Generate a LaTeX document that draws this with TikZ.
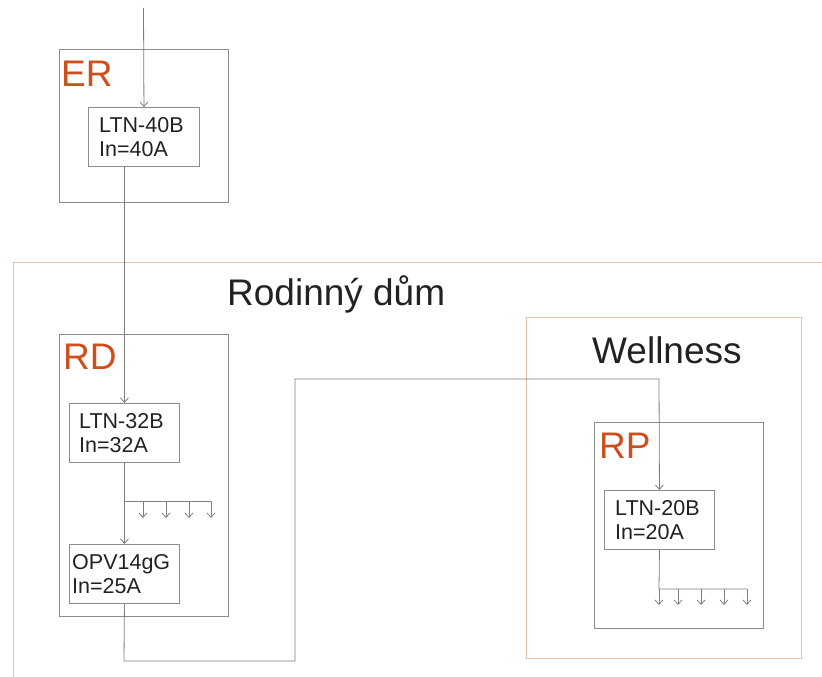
\documentclass[tikz,border=0pt]{standalone}
\usepackage{fontspec}
\setmainfont{Liberation Sans}
\usetikzlibrary{arrows.meta,calc}
\definecolor{wire}{HTML}{7F7F7F}
\definecolor{boxgray}{HTML}{8C8C8C}
\definecolor{frameor}{HTML}{E2BFAB}
\definecolor{labor}{HTML}{CF4F1C}
\definecolor{txt}{HTML}{222222}
\tikzset{
  px/.style={x=1pt,y=-1pt},
  wireline/.style={draw=wire,line width=0.8pt},
  arr/.style={wireline,-{Straight Barb[length=4.5pt,width=8pt,line width=0.8pt]}},
  devbox/.style={draw=boxgray,line width=0.9pt,fill=white,minimum width=#1,minimum height=59pt,inner sep=0pt,anchor=north west},
  panel/.style={draw=boxgray,line width=0.9pt},
  frame/.style={draw=frameor,line width=1pt},
  devtext/.style={text=txt,font=\fontsize{21.5}{24}\selectfont,align=left,inner sep=0pt,anchor=west},
  panellabel/.style={text=labor,font=\fontsize{37}{40}\selectfont,inner sep=0pt,anchor=base west},
  zonelabel/.style={text=txt,font=\fontsize{37}{40}\selectfont,inner sep=0pt,anchor=base west},
}
\begin{document}
\begin{tikzpicture}[px]
\clip (0,0) rectangle (822,677);
\fill[white] (0,0) rectangle (822,677);
% frames
\draw[frame] (13,262) rectangle (840,700);
\draw[frame] (526,317) rectangle (801,658);
\node[zonelabel] (rdtitle) at (227,305) {Rodinný dům};
\node[zonelabel] (wtitle) at (592,363) {Wellness};
% panels
\draw[panel] (59,49) rectangle (228,202);
\draw[panel] (59,334) rectangle (228,616);
\draw[panel] (594,422) rectangle (763,628);
\node[panellabel] (er) at (61,86) {ER};
\node[panellabel] (rd) at (63,369) {RD};
\node[panellabel] (rp) at (599,458) {RP};
% wire corner points
\coordinate (in) at (143.5,8);
\coordinate (c1) at (124,661);
\coordinate (c2) at (295,661);
\coordinate (c3) at (295,379);
\coordinate (c4) at (659,379);
\coordinate (brA) at (124,501);
\coordinate (brB) at (659,589);
% device boxes
\node[devbox=111pt] (b1) at (88,107) {};
\node[devbox=110pt] (b2) at (69,403) {};
\node[devbox=110pt] (b3) at (69,544) {};
\node[devbox=110pt] (b4) at (604,490) {};
\node[devtext] (t1) at ($(b1.west)+(11,0)$) {LTN-40B\\In=40A};
\node[devtext] (t2) at ($(b2.west)+(10,0)$) {LTN-32B\\In=32A};
\node[devtext] (t3) at ($(b3.west)+(3,0)$) {OPV14gG\\In=25A};
\node[devtext] (t4) at ($(b4.west)+(11,0)$) {LTN-20B\\In=20A};
% connections
\draw[arr] (in) -- (b1.north);
\draw[arr] (b2.north |- b1.south) -- (b2.north);
\draw[arr] (b2.south) -- (b3.north);
\draw[wireline] (brA) -- ++(87,0);
\foreach \dx in {19,42,65,87} \draw[arr] ($(brA)+(\dx,0)$) -- ++(0,17);
\draw[arr] (b3.south) -- (c1) -- (c2) -- (c3) -- (c4) -- (b4.north);
\draw[wireline] (b4.south) -- (brB) -- ++(88,0);
\foreach \dx in {0,19,42,65,88} \draw[arr] ($(brB)+(\dx,0)$) -- ++(0,16);
\end{tikzpicture}
\end{document}
